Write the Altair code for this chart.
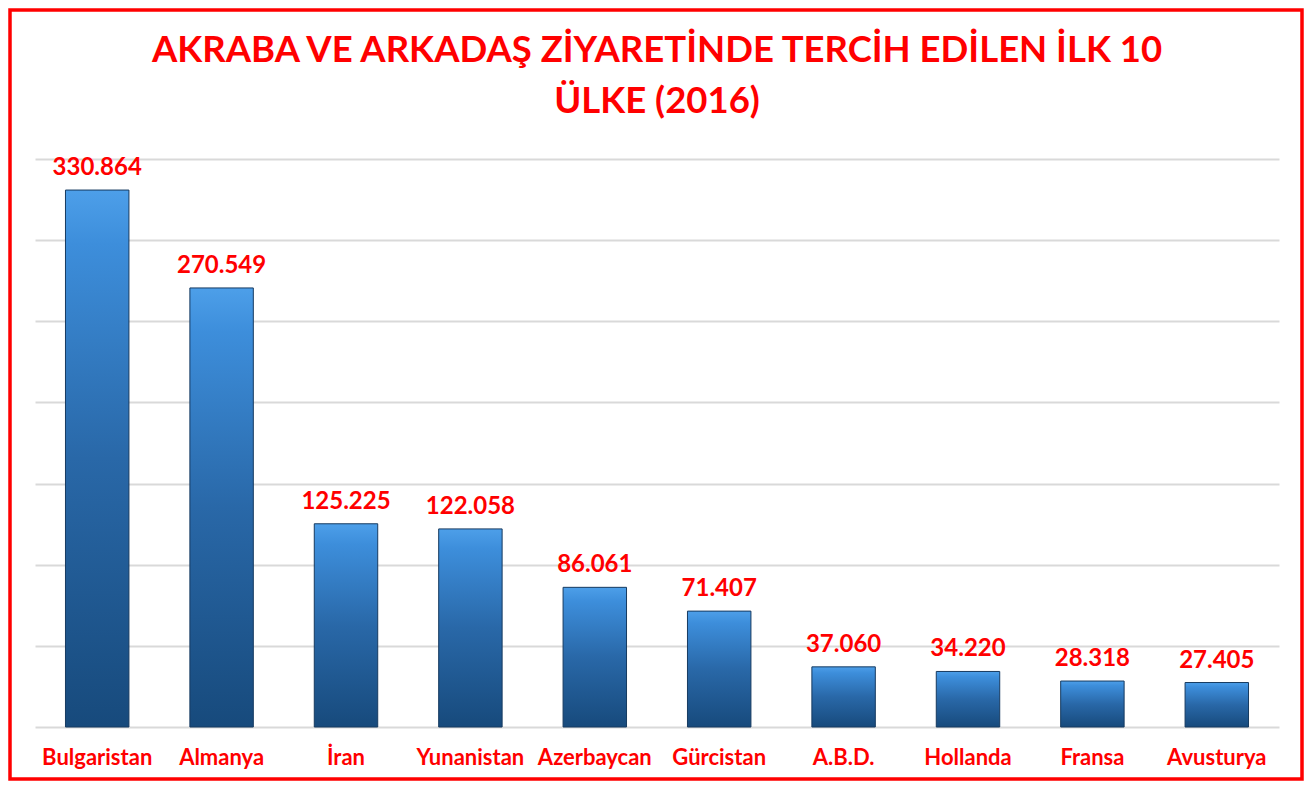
import altair as alt
import pandas as pd

countries = ["Bulgaristan", "Almanya", "İran", "Yunanistan", "Azerbaycan",
             "Gürcistan", "A.B.D.", "Hollanda", "Fransa", "Avusturya"]
values = [330864, 270549, 125225, 122058, 86061, 71407, 37060, 34220, 28318, 27405]
labels = ["330.864", "270.549", "125.225", "122.058", "86.061",
          "71.407", "37.060", "34.220", "28.318", "27.405"]
y_ticks = [0, 50000, 100000, 150000, 200000, 250000, 300000, 350000]
title_lines = ["AKRABA VE ARKADAŞ ZİYARETİNDE TERCİH EDİLEN İLK 10", "ÜLKE (2016)"]

df = pd.DataFrame({"country": countries, "value": values, "label": labels})

RED = "#ff0000"
FONT = "Lato"
W, H = 1244, 568
PAD_L, PAD_T, PAD_R, PAD_B = 27, 151, 25, 54

x_enc = alt.X("country:N", sort=None, title=None,
              scale=alt.Scale(paddingInner=0.49, paddingOuter=0.245),
              axis=alt.Axis(labelColor=RED, labelFont=FONT, labelFontWeight="bold",
                            labelFontSize=22, labelAngle=0, ticks=False, domain=False,
                            labelPadding=20, grid=False))
y_enc = alt.Y("value:Q", title=None,
              scale=alt.Scale(domain=[0, 350000], nice=False),
              axis=alt.Axis(values=y_ticks, labels=False, ticks=False, domain=False,
                            grid=True, gridColor="#d9d9d9", gridWidth=2))

grad = alt.Gradient(gradient="linear", x1=0, y1=0, x2=0, y2=1,
                    stops=[alt.GradientStop(color="#4d9fe9", offset=0),
                           alt.GradientStop(color="#3d8edb", offset=0.1),
                           alt.GradientStop(color="#2968a8", offset=0.5),
                           alt.GradientStop(color="#174a7c", offset=1)])

bars = alt.Chart(df).mark_bar(color=grad, stroke="#163a60", strokeWidth=1).encode(
    x=x_enc, y=y_enc)

text = alt.Chart(df).mark_text(color=RED, font=FONT, fontWeight="bold", fontSize=24,
                               baseline="bottom", dy=-10).encode(
    x=alt.X("country:N", sort=None),
    y=alt.Y("value:Q"),
    text="label:N")

def title_line(i, ypos):
    return alt.Chart(pd.DataFrame({"line": [title_lines[i]]})).mark_text(
        color=RED, font=FONT, fontWeight="bold", fontSize=36.5,
        baseline="middle", align="center").encode(
        x=alt.value(W / 2), y=alt.value(ypos), text="line:N")

title1 = title_line(0, -108)
title2 = title_line(1, -57)

border = alt.Chart(pd.DataFrame({"k": [0]})).mark_rect(
    fill="transparent", stroke=RED, strokeWidth=3.5, clip=False).encode(
    x=alt.value(-PAD_L + 2), x2=alt.value(W + PAD_R - 2),
    y=alt.value(-PAD_T + 2), y2=alt.value(H + PAD_B - 2))

chart = alt.layer(bars, text, title1, title2, border).properties(
    width=W, height=H,
    background="white",
    autosize=alt.AutoSizeParams(type="none"),
    padding={"left": PAD_L, "top": PAD_T, "right": PAD_R, "bottom": PAD_B},
).configure_view(strokeWidth=0, stroke="transparent").configure_axis(domain=False, ticks=False)

chart.save("out.html", embed_options={"renderer": "svg", "actions": False})
